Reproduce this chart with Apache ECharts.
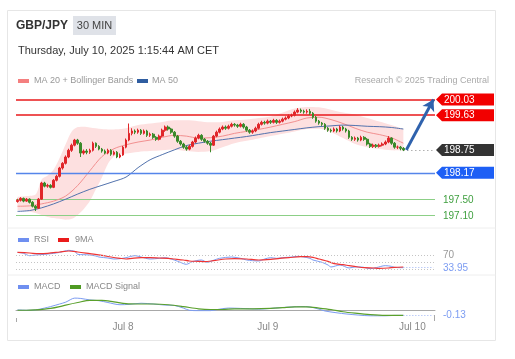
<!DOCTYPE html>
<html><head><meta charset="utf-8">
<script src="https://cdn.jsdelivr.net/npm/echarts@6/dist/echarts.min.js"></script>
<style>html,body{margin:0;padding:0;background:#fff}#c{width:515px;height:359px}</style>
</head><body><div id="c"></div>
<script>
const FONT = '"Liberation Sans", Arial, sans-serif';

// 30-min candles: [open, close, low, high]
const candles = [
[197.44,197.47,197.41,197.51],[197.47,197.52,197.44,197.55],[197.52,197.45,197.42,197.54],[197.45,197.50,197.43,197.53],
[197.50,197.42,197.39,197.52],[197.42,197.32,197.29,197.45],[197.32,197.27,197.20,197.35],[197.27,197.50,197.25,197.53],
[197.50,197.91,197.48,197.94],[197.91,197.83,197.80,197.94],[197.83,197.85,197.79,197.89],[197.85,197.80,197.77,197.88],
[197.80,197.98,197.78,198.01],[197.98,198.08,197.95,198.12],[198.08,198.29,198.05,198.32],[198.29,198.41,198.25,198.44],
[198.41,198.57,198.38,198.61],[198.57,198.74,198.54,198.78],[198.74,198.87,198.70,198.91],[198.87,199.00,198.84,199.03],
[199.00,198.92,198.88,199.03],[198.92,198.67,198.57,198.95],[198.67,198.72,198.63,198.76],[198.72,198.69,198.64,198.77],
[198.69,198.74,198.65,198.78],[198.74,198.92,198.71,198.96],[198.92,198.84,198.80,198.94],[198.84,198.77,198.74,198.87],
[198.77,198.72,198.68,198.80],[198.72,198.67,198.64,198.76],[198.67,198.74,198.64,198.78],[198.74,198.64,198.60,198.77],
[198.64,198.69,198.61,198.73],[198.69,198.57,198.54,198.72],[198.57,198.62,198.54,198.66],[198.62,198.82,198.60,198.85],
[198.82,199.00,198.79,199.04],[199.00,199.17,198.97,199.42],[199.17,199.23,199.12,199.30],[199.23,199.20,199.15,199.27],
[199.20,199.25,199.16,199.29],[199.25,199.17,199.13,199.28],[199.17,199.23,199.14,199.27],[199.23,199.12,199.08,199.26],
[199.12,199.15,199.08,199.19],[199.15,199.07,199.03,199.18],[199.07,199.02,198.98,199.10],[199.02,199.10,198.99,199.14],
[199.10,199.25,199.07,199.29],[199.25,199.33,199.21,199.37],[199.33,199.28,199.24,199.37],[199.28,199.20,199.16,199.31],
[199.20,199.10,199.06,199.23],[199.10,198.97,198.93,199.13],[198.97,198.90,198.86,199.00],[198.90,198.82,198.78,198.93],
[198.82,198.77,198.73,198.86],[198.77,198.84,198.74,198.88],[198.84,198.95,198.81,198.98],[198.95,199.05,198.92,199.09],
[199.05,199.12,199.02,199.16],[199.12,199.02,198.98,199.15],[199.02,198.97,198.93,199.05],[198.97,198.92,198.88,199.00],
[198.92,198.87,198.69,198.95],[198.87,199.10,198.85,199.13],[199.10,199.20,199.07,199.24],[199.20,199.28,199.17,199.32],
[199.28,199.33,199.25,199.37],[199.33,199.30,199.26,199.37],[199.30,199.35,199.27,199.39],[199.35,199.40,199.32,199.44],
[199.40,199.38,199.34,199.43],[199.38,199.35,199.31,199.41],[199.35,199.40,199.32,199.44],[199.40,199.33,199.29,199.43],
[199.33,199.25,199.21,199.36],[199.25,199.20,199.16,199.28],[199.20,199.23,199.16,199.27],[199.23,199.30,199.20,199.34],
[199.30,199.40,199.27,199.44],[199.40,199.45,199.37,199.49],[199.45,199.43,199.39,199.49],[199.43,199.48,199.40,199.52],
[199.48,199.45,199.41,199.51],[199.45,199.50,199.42,199.54],[199.50,199.45,199.41,199.53],[199.45,199.48,199.42,199.52],
[199.48,199.53,199.45,199.57],[199.53,199.56,199.50,199.60],[199.56,199.61,199.53,199.65],[199.61,199.63,199.58,199.67],
[199.63,199.71,199.60,199.75],[199.71,199.76,199.68,199.81],[199.76,199.73,199.69,199.80],[199.73,199.71,199.67,199.77],
[199.71,199.73,199.67,199.78],[199.73,199.68,199.64,199.79],[199.68,199.58,199.54,199.71],[199.58,199.48,199.44,199.61],
[199.48,199.43,199.39,199.51],[199.43,199.40,199.36,199.46],[199.40,199.30,199.26,199.43],[199.30,199.25,199.21,199.33],
[199.25,199.23,199.19,199.29],[199.23,199.28,199.20,199.32],[199.28,199.23,199.19,199.31],[199.23,199.33,199.20,199.37],
[199.33,199.28,199.24,199.36],[199.28,199.23,199.19,199.31],[199.23,199.07,199.03,199.26],[199.07,199.02,198.98,199.10],
[199.02,199.05,198.98,199.09],[199.05,199.00,198.96,199.08],[199.00,199.07,198.97,199.11],[199.07,199.02,198.98,199.10],
[199.02,198.90,198.86,199.05],[198.90,198.84,198.80,198.93],[198.84,198.87,198.80,198.91],[198.87,198.84,198.80,198.90],
[198.84,198.87,198.81,198.91],[198.87,198.90,198.84,198.94],[198.90,198.95,198.87,198.99],[198.95,199.05,198.92,199.10],
[199.05,198.92,198.88,199.07],[198.92,198.82,198.78,198.95],[198.82,198.82,198.77,198.86],[198.82,198.79,198.74,198.85],
[198.79,198.75,198.72,198.82]
];

// Bollinger bands: candle index, upper, lower
const bbIndex = [0,3,6,8,10,12,14,16,18,20,22,24,26,28,30,32,34,36,40,44,48,52,56,60,64,68,72,76,80,84,88,92,96,100,104,108,112,116,120,124,128];
const bbUpper = [197.56,197.58,197.62,198.00,198.10,198.25,198.55,198.90,199.22,199.33,199.34,199.32,199.30,199.28,199.27,199.27,199.28,199.30,
  199.38,199.42,199.46,199.50,199.50,199.48,199.45,199.46,199.50,199.52,199.56,199.60,199.70,199.80,199.84,199.83,199.77,199.70,199.65,199.56,199.47,199.38,199.28];
const bbLower = [197.22,197.20,197.15,197.10,197.05,197.02,197.00,196.98,197.00,197.10,197.25,197.45,197.75,198.05,198.40,198.58,198.64,198.66,
  198.70,198.72,198.74,198.76,198.72,198.70,198.72,198.82,198.92,198.98,199.04,199.10,199.16,199.22,199.28,199.29,199.20,199.05,198.90,198.82,198.77,198.74,198.73];
const ma20 = [[0,197.32],[4,197.33],[8,197.38],[12,197.45],[16,197.58],[20,197.85],[24,198.22],[28,198.58],[32,198.78],[36,198.88],
[40,198.95],[44,199.00],[48,199.07],[52,199.12],[56,199.10],[60,199.05],[64,199.06],[68,199.10],[72,199.17],[76,199.22],[80,199.27],
[84,199.33],[88,199.40],[92,199.47],[96,199.56],[100,199.58],[104,199.52],[108,199.42],[112,199.30],[116,199.20],[120,199.14],
[124,199.06],[128,198.92]];
const ma50 = [[0,197.19],[4,197.21],[8,197.28],[12,197.38],[16,197.50],[20,197.63],[24,197.75],[28,197.85],[32,197.95],[36,198.06],
[40,198.30],[44,198.50],[48,198.63],[52,198.75],[56,198.86],[60,198.92],[64,198.97],[68,199.01],[72,199.05],[76,199.09],[80,199.14],
[84,199.19],[88,199.23],[92,199.27],[96,199.31],[100,199.34],[104,199.36],[108,199.38],[112,199.37],[116,199.35],[120,199.34],
[124,199.32],[128,199.28]];
const rsi = [[0,80],[2,77],[4,70],[6,72],[9,74],[12,77],[14,80],[17,86],[19,83],[20,74],[22,73],[24,72],[26,69],[27,66],[30,63],
[32,60],[34,61],[36,64],[39,70],[41,66],[44,60],[47,62],[49,64],[52,57],[54,50],[56,44],[58,52],[61,57],[63,50],[65,56],[67,62],
[71,66],[74,62],[76,57],[78,55],[80,54],[82,60],[84,64],[86,62],[88,64],[91,66],[93,68],[95,66],[97,62],[98,57],[101,50],[103,42],
[104,36],[107,42],[110,33],[112,36],[114,36],[117,31],[119,34],[122,40],[124,38],[125,35],[127,34],[128,33.95]];
const rsi9ma = [[0,80],[4,78],[7,76],[10,77],[14,81],[17,84],[20,81],[24,76],[28,71],[31,66],[34,62],[36,60],[38,62],[41,64],[44,64],
[47,63],[50,62],[52,60],[55,57],[57,54],[60,53],[62,52],[65,55],[69,60],[72,61],[76,60],[80,57],[84,59],[87,62],[90,64],[94,67],
[96,67],[98,65],[100,60],[103,53],[105,46],[108,43],[110,40],[113,36],[115,34],[118,33],[120,32],[123,33],[125,35],[128,36]];
const macd = [[0,0.02],[3,0.01],[6,0.02],[9,0.07],[11,0.11],[14,0.18],[16,0.23],[19,0.34],[21,0.33],[24,0.29],[27,0.27],[30,0.22],
[34,0.16],[37,0.17],[41,0.20],[45,0.18],[49,0.15],[52,0.14],[55,0.07],[57,0.01],[60,0.00],[64,0.00],[67,0.04],[70,0.07],[74,0.06],
[77,0.05],[80,0.04],[84,0.06],[87,0.08],[91,0.10],[94,0.11],[97,0.10],[100,0.04],[102,-0.01],[106,-0.06],[109,-0.09],[113,-0.12],
[117,-0.14],[122,-0.14],[125,-0.13],[128,-0.13]];
const macdSignal = [[0,0.01],[3,0.01],[6,0.02],[9,0.04],[11,0.06],[14,0.11],[16,0.15],[20,0.22],[24,0.28],[28,0.28],[32,0.24],
[36,0.19],[40,0.18],[45,0.18],[50,0.16],[55,0.11],[60,0.05],[64,0.03],[68,0.03],[72,0.05],[78,0.05],[84,0.06],[88,0.08],[92,0.10],
[96,0.10],[100,0.07],[104,0.03],[108,-0.03],[112,-0.07],[117,-0.11],[122,-0.13],[128,-0.13]];

const resistance = [200.03, 199.63];
const lastPrice = 198.75;
const pivot = 198.17;
const supports = [197.50, 197.10];
const targetPrice = 200.03;
const rsiLevels = [70, 50, 30];
const rsiLast = 33.95;
const macdLast = -0.13;
const dayLabels = {'07-08':'Jul 8','07-09':'Jul 9','07-10':'Jul 10'};

// time categories, 30 min apart
const categories = [];
const t0 = Date.UTC(2025,6,7,6,30);
const pad = n => (n<10?'0':'')+n;
for (let k=0;k<139;k++){
  const d = new Date(t0 + k*1800000);
  categories.push(pad(d.getUTCMonth()+1)+'-'+pad(d.getUTCDate())+' '+pad(d.getUTCHours())+':'+pad(d.getUTCMinutes()));
}
const lastIdx = candles.length-1;
const endIdx = categories.length-1;
const bandBase = bbIndex.map((x,k)=>[x, bbLower[k]]);
const bandSpan = bbIndex.map((x,k)=>[x, +(bbUpper[k]-bbLower[k]).toFixed(3)]);

const GL = 16, GW = 419;
const chart = echarts.init(document.getElementById('c'), null, {renderer:'canvas'});
const xa = (g, show) => ({
  type:'category', gridIndex:g, data:categories, boundaryGap:true,
  axisLine:{show:show, lineStyle:{color:'#a8a8a8', width:1}},
  axisTick:{show:false}, splitLine:{show:false},
  axisLabel:{show:show, color:'#888', fontSize:10, fontFamily:FONT, margin:4,
    interval:(i,v)=>v.slice(6)==='00:00', formatter:v=>dayLabels[v.slice(0,5)]||''}
});
const ya = (g,min,max)=>({type:'value', gridIndex:g, min:min, max:max, show:false, splitLine:{show:false}});
const line = (data, x, color, width, z) => ({type:'line', xAxisIndex:x, yAxisIndex:x, data:data, showSymbol:false, symbol:'none',
  smooth:0.3, silent:true, z:z||3, lineStyle:{color:color, width:width}});

chart.setOption({
  animation:false,
  backgroundColor:'#fff',
  grid:[
    {left:GL, width:GW, top:92, height:130},
    {left:GL, width:GW, top:245.7, height:26.6},
    {left:GL, width:GW, top:292.2, height:25.8}
  ],
  xAxis:[xa(0,false), xa(1,false), xa(2,true)],
  yAxis:[ya(0,196.92,200.22), ya(1,20,100), ya(2,-0.2,0.5)],
  series:[
    {type:'line', xAxisIndex:0, yAxisIndex:0, data:bandBase, stack:'bb', showSymbol:false, smooth:0.3, silent:true, z:1,
      lineStyle:{width:0, opacity:0}},
    {type:'line', xAxisIndex:0, yAxisIndex:0, data:bandSpan, stack:'bb', showSymbol:false, smooth:0.3, silent:true, z:1,
      lineStyle:{width:0, opacity:0}, areaStyle:{color:'#fde0e0', opacity:1}},
    line(ma20,0,'#f29090',1,3),
    line(ma50,0,'#5272ad',1,3),
    {type:'candlestick', xAxisIndex:0, yAxisIndex:0, data:candles, barWidth:2.2, z:5, silent:true,
      itemStyle:{color:'#e0262a', color0:'#3a8a2a', borderColor:'#e0262a', borderColor0:'#3a8a2a', borderWidth:1},
      markLine:{silent:true, symbol:'none', label:{show:false}, animation:false,
        data:[
          {yAxis:resistance[0], lineStyle:{color:'#e8191b', width:1.6, type:'solid'}},
          {yAxis:resistance[1], lineStyle:{color:'#e8191b', width:1.6, type:'solid'}},
          {yAxis:pivot, lineStyle:{color:'#5585ea', width:1.3, type:'solid'}},
          [{coord:[lastIdx, lastPrice], lineStyle:{color:'#888', width:1, type:[1,3]}}, {coord:[endIdx, lastPrice]}],
          [{coord:[lastIdx+1, lastPrice], symbol:'none', lineStyle:{color:'#2f62ad', width:3, type:'solid'}},
           {coord:[endIdx, targetPrice], symbol:'arrow', symbolSize:[10,11]}]
        ]}},
    Object.assign(line(rsi,1,'#7c9cf2',1,3), {markLine:{silent:true, symbol:'none', label:{show:false}, animation:false,
      data:[
        ...rsiLevels.map(v=>({yAxis:v, lineStyle:{color:'#c4c4c4', width:1, type:[1,2]}})),
        [{coord:[lastIdx, rsiLast], lineStyle:{color:'#9db4f5', width:1, type:[1,2]}}, {coord:[endIdx, rsiLast]}]
      ]}}),
    line(rsi9ma,1,'#ef3434',1.2,4),
    Object.assign(line(macd,2,'#7c9cf2',1,3), {markLine:{silent:true, symbol:'none', label:{show:false}, animation:false,
      data:[[{coord:[lastIdx, macdLast], lineStyle:{color:'#9db4f5', width:1, type:[1,2]}}, {coord:[endIdx, macdLast]}]]}}),
    line(macdSignal,2,'#5aa02c',1.2,4)
  ]
});

const py = (v,g) => chart.convertToPixel({yAxisIndex:g}, v);
const txt = (text, x, y, size, color, extra) => ({type:'text', z:100, style:Object.assign({text:text, x:x, y:y,
  font: (extra&&extra.bold?'bold ':'')+size+'px '+FONT, fill:color, verticalAlign:'middle', align:(extra&&extra.align)||'left'})});
const icon = (x,y,color) => ({type:'rect', z:100, shape:{x:x, y:y-2, width:11, height:4}, style:{fill:color}});
const tag = (v, fill) => {
  const y = py(v,0);
  return [{type:'polygon', z:100, shape:{points:[[436,y],[442,y-6],[494,y-6],[494,y+6],[442,y+6]]}, style:{fill:fill}},
          txt(v.toFixed(2), 444, y+0.5, 10, '#fff')];
};
const supLine = v => { const y = Math.round(py(v,0)) + 0.5;
  return {type:'line', z:2, silent:true, shape:{x1:GL, y1:y, x2:GL+GW, y2:y}, style:{stroke:'#8ccf86', lineWidth:1}}; };
const gx0 = GL, gx1 = GL+GW, axY = py(-0.2,2);
const g = [
  {type:'rect', z:0, shape:{x:7.5, y:10.5, width:488, height:330}, style:{fill:'none', stroke:'#e6e6e6', lineWidth:1}},
  {type:'line', z:0, shape:{x1:7.5, y1:228, x2:495.5, y2:228}, style:{stroke:'#eeeeee', lineWidth:1}},
  {type:'line', z:0, shape:{x1:7.5, y1:275, x2:495.5, y2:275}, style:{stroke:'#eeeeee', lineWidth:1}},
  supLine(supports[0]), supLine(supports[1]),
  txt('GBP/JPY', 16, 26, 12, '#333', {bold:true}),
  {type:'rect', z:100, shape:{x:73, y:16, width:43, height:19}, style:{fill:'#dfe2e8'}},
  txt('30 MIN', 94.5, 26, 11, '#444', {align:'center'}),
  txt('Thursday, July 10, 2025 1:15:44 AM CET', 18, 51, 11, '#333'),
  icon(18,81,'#f47f7f'), txt('MA 20 + Bollinger Bands', 34, 81, 9, '#999'),
  icon(137,81,'#2f5da0'), txt('MA 50', 152, 81, 9, '#999'),
  txt('Research © 2025 Trading Central', 489, 81, 9, '#aaa', {align:'right'}),
  icon(18,240,'#6f8ff0'), txt('RSI', 34, 240, 9, '#888'),
  icon(58,240,'#ea1c1c'), txt('9MA', 75, 240, 9, '#888'),
  icon(18,287,'#6f8ff0'), txt('MACD', 34, 287, 9, '#888'),
  icon(70,287,'#4e9a22'), txt('MACD Signal', 86, 287, 9, '#888'),
  ...tag(resistance[0], '#f20000'),
  ...tag(resistance[1], '#f20000'),
  ...tag(lastPrice, '#333333'),
  ...tag(pivot, '#1d5ff5'),
  txt(supports[0].toFixed(2), 443, py(supports[0],0)+1, 10, '#3f9f3f'),
  txt(supports[1].toFixed(2), 443, py(supports[1],0)+1, 10, '#3f9f3f'),
  txt(String(rsiLevels[0]), 443, py(rsiLevels[0],1), 10, '#999'),
  txt(rsiLast.toFixed(2), 443, py(rsiLast,1)+1, 10, '#7c9cf2'),
  txt(macdLast.toFixed(2), 443, py(macdLast,2), 10, '#7c9cf2'),
  {type:'line', z:100, shape:{x1:gx0+0.5, y1:axY, x2:gx0+0.5, y2:axY+4}, style:{stroke:'#a8a8a8', lineWidth:1}},
  {type:'line', z:100, shape:{x1:gx1-0.5, y1:axY-3, x2:gx1-0.5, y2:axY+3}, style:{stroke:'#a8a8a8', lineWidth:1}}
];
chart.setOption({graphic:g});
</script></body></html>
